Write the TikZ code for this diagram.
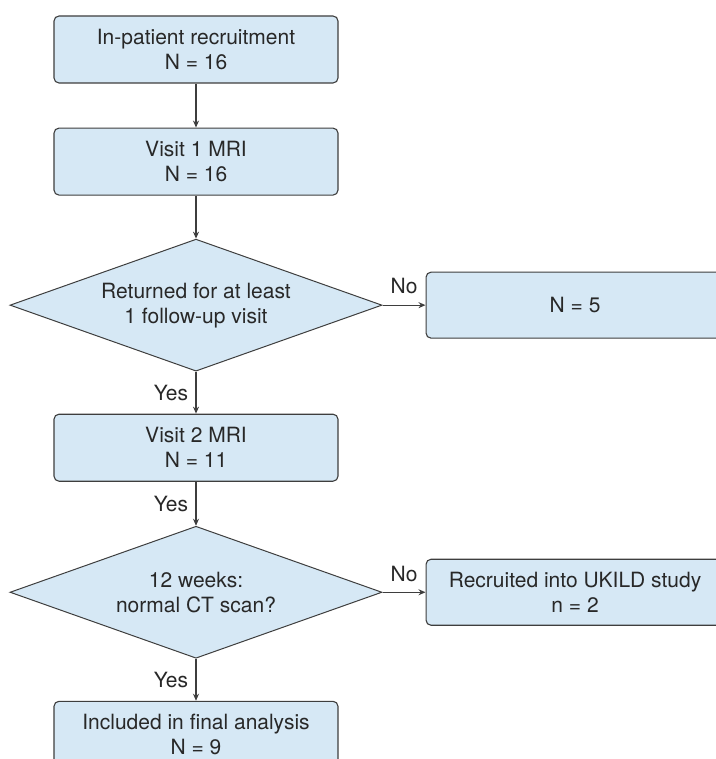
\documentclass[tikz,border=0pt]{standalone}
\usepackage{fontspec}
\setmainfont{TeX Gyre Heros}
\usetikzlibrary{shapes.geometric,positioning,arrows.meta}
\definecolor{boxblue}{RGB}{214,232,245}
\definecolor{linegray}{RGB}{62,62,62}
\definecolor{txtgray}{RGB}{40,40,40}
\begin{document}
\begin{tikzpicture}[
        x=1pt, y=-1pt,
        every node/.style={font=\fontsize{21}{25}\selectfont, text=txtgray},
        stagebox/.style={rectangle, draw=linegray, line width=1.1pt, fill=boxblue, rounded corners=5pt, align=center, minimum width=284pt, minimum height=67pt}, % Caixas principais
        sidebox/.style={stagebox, minimum width=298pt, minimum height=66pt}, % Caixas laterais
        decision/.style={diamond, draw=linegray, line width=1pt, fill=boxblue, aspect=2.8, inner sep=0pt, align=center, minimum width=372pt, minimum height=132pt}, % Decisoes
        flow/.style={draw=linegray, line width=1.1pt, -{Stealth[length=7pt,width=6pt]}}
    ]
    \useasboundingbox (0,0) rectangle (715,759);
    \node[stagebox] (recruit) at (196,49.5) {In-patient recruitment\\N = 16};
    \node[stagebox, below=44pt of recruit] (visitone) {Visit 1 MRI\\N = 16};
    \node[decision, below=43pt of visitone] (returned) {Returned for at least\\1 follow-up visit};
    \node[sidebox, right=43pt of returned] (lost) {N = 5};
    \node[stagebox, below=42pt of returned] (visittwo) {Visit 2 MRI\\N = 11};
    \node[decision, below=44pt of visittwo] (ctscan) {12 weeks:\\normal CT scan?};
    \node[sidebox, right=43pt of ctscan] (ukild) {Recruited into UKILD study\\n = 2};
    \node[stagebox, below=42pt of ctscan] (final) {Included in final analysis\\N = 9};

    \draw[flow] (recruit.south) -- (visitone.north);
    \draw[flow] (visitone.south) -- (returned.north);
    \draw[flow] (returned.east) -- node[above=7pt] {No} (lost.west);
    \draw[flow] (returned.south) -- node[left=4pt] {Yes} (visittwo.north);
    \draw[flow] (visittwo.south) -- node[left=4pt] {Yes} (ctscan.north);
    \draw[flow] (ctscan.east) -- node[above=7pt] {No} (ukild.west);
    \draw[flow] (ctscan.south) -- node[left=4pt] {Yes} (final.north);
\end{tikzpicture}
\end{document}
